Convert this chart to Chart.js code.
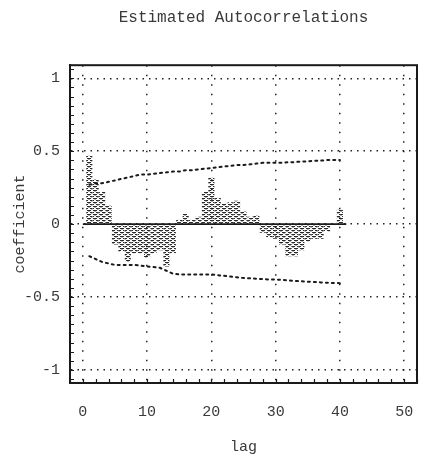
<!DOCTYPE html>
<html>
<head>
<meta charset="utf-8">
<script src="https://cdn.jsdelivr.net/npm/chart.js@4.4.1/dist/chart.umd.min.js"></script>
<style>
  html, body { margin: 0; padding: 0; background: #fff; }
  canvas { display: block; }
</style>
</head>
<body>
<canvas id="acf" width="424" height="467"></canvas>
<script>
// ---- data ----
const TITLE = 'Estimated Autocorrelations';
const X_TITLE = 'lag';
const Y_TITLE = 'coefficient';

const LAGS = [1, 2, 3, 4, 5, 6, 7, 8, 9, 10,
              11, 12, 13, 14, 15, 16, 17, 18, 19, 20,
              21, 22, 23, 24, 25, 26, 27, 28, 29, 30,
              31, 32, 33, 34, 35, 36, 37, 38, 39, 40];

const ACF = [0.47, 0.31, 0.22, 0.13, -0.14, -0.19, -0.26, -0.20, -0.20, -0.23,
             -0.20, -0.18, -0.29, -0.20, 0.03, 0.07, 0.03, 0.05, 0.22, 0.32,
             0.18, 0.14, 0.15, 0.16, 0.09, 0.05, 0.06, -0.06, -0.09, -0.10,
             -0.14, -0.22, -0.22, -0.18, -0.12, -0.10, -0.10, -0.05, 0.00, 0.10];

const BAND_UPPER = [0.27, 0.28, 0.28, 0.29, 0.30, 0.31, 0.32, 0.33, 0.34, 0.34,
                    0.345, 0.35, 0.355, 0.36, 0.36, 0.37, 0.37, 0.375, 0.38, 0.385,
                    0.39, 0.395, 0.40, 0.405, 0.405, 0.41, 0.415, 0.42, 0.42, 0.42,
                    0.42, 0.425, 0.425, 0.43, 0.43, 0.435, 0.435, 0.44, 0.44, 0.44];

const BAND_LOWER = [-0.22, -0.24, -0.26, -0.27, -0.28, -0.28, -0.28, -0.28, -0.285, -0.29,
                    -0.295, -0.30, -0.32, -0.34, -0.345, -0.345, -0.345, -0.345, -0.345, -0.345,
                    -0.35, -0.355, -0.36, -0.365, -0.37, -0.372, -0.375, -0.377, -0.38, -0.38,
                    -0.383, -0.386, -0.39, -0.392, -0.395, -0.397, -0.40, -0.402, -0.404, -0.405];

const BASELINE_LAGS = [0, 41];

const X_TICKS = [0, 10, 20, 30, 40, 50];
const Y_TICKS = [-1, -0.5, 0, 0.5, 1];
const X_MINOR_STEP = 2;
const Y_MINOR_STEP = 0.0625;

// ---- styling helpers ----
const INK = '#1a1a1a';
const TEXT = '#3a3a3a';
const FONT = 'Liberation Mono';

// brick-like dithered hatch used to fill the bars
function hatchPattern() {
  const c = document.createElement('canvas');
  c.width = 6; c.height = 4;
  const g = c.getContext('2d');
  g.fillStyle = 'rgba(20,20,20,0.9)';
  g.fillRect(0, 0, 4, 1);
  g.fillRect(3, 2, 3, 1);
  g.fillRect(0, 2, 1, 1);
  g.fillStyle = 'rgba(20,20,20,0.35)';
  g.fillRect(1, 1, 2, 1);
  g.fillRect(4, 3, 2, 1);
  return g.createPattern(c, 'repeat');
}

// frame around the plot plus small minor tick marks along left and bottom
const framePlugin = {
  id: 'frame',
  afterDatasetsDraw(chart) {
    const { ctx, chartArea: a, scales } = chart;
    ctx.save();
    ctx.strokeStyle = INK;
    ctx.lineWidth = 2;
    ctx.strokeRect(a.left, a.top, a.right - a.left, a.bottom - a.top);

    ctx.lineWidth = 1.2;
    ctx.beginPath();
    const xs = scales.x;
    for (let v = Math.ceil(xs.min / X_MINOR_STEP) * X_MINOR_STEP; v <= xs.max; v += X_MINOR_STEP) {
      const px = Math.round(xs.getPixelForValue(v)) + 0.5;
      ctx.moveTo(px, a.bottom);
      ctx.lineTo(px, a.bottom - 4);
    }
    const ys = scales.y;
    for (let v = Math.ceil(ys.min / Y_MINOR_STEP) * Y_MINOR_STEP; v <= ys.max; v += Y_MINOR_STEP) {
      const py = Math.round(ys.getPixelForValue(v)) + 0.5;
      ctx.moveTo(a.left, py);
      ctx.lineTo(a.left + 4, py);
    }
    ctx.stroke();
    ctx.restore();
  }
};

const ctx = document.getElementById('acf').getContext('2d');

const bandStyle = {
  type: 'line',
  borderColor: INK,
  borderWidth: 2,
  borderDash: [2, 4],
  borderCapStyle: 'round',
  pointRadius: 0,
  fill: false,
  tension: 0
};

const tickText = v => String(v);

new Chart(ctx, {
  type: 'bar',
  data: {
    datasets: [
      {
        type: 'line',
        label: 'zero',
        data: BASELINE_LAGS.map(l => ({ x: l, y: 0 })),
        borderColor: INK,
        borderWidth: 1.6,
        pointRadius: 0,
        order: 0
      },
      Object.assign({ label: 'upper', data: LAGS.map((l, i) => ({ x: l, y: BAND_UPPER[i] })), order: 1 }, bandStyle),
      Object.assign({ label: 'lower', data: LAGS.map((l, i) => ({ x: l, y: BAND_LOWER[i] })), order: 1 }, bandStyle),
      {
        type: 'bar',
        label: 'acf',
        data: LAGS.map((l, i) => ({ x: l, y: ACF[i] })),
        backgroundColor: hatchPattern(),
        borderWidth: 0,
        categoryPercentage: 1.0,
        barPercentage: 0.95,
        order: 2
      }
    ]
  },
  options: {
    responsive: false,
    animation: false,
    layout: { padding: { left: 0, right: 7, top: 0, bottom: 0 } },
    plugins: {
      legend: { display: false },
      tooltip: { enabled: false },
      title: {
        display: true,
        text: TITLE,
        fullSize: false,
        color: TEXT,
        font: { family: FONT, size: 16, weight: 'normal' },
        padding: { top: 8, bottom: 38 }
      }
    },
    scales: {
      x: {
        type: 'linear',
        offset: false,
        min: -2,
        max: 52,
        afterBuildTicks: s => { s.ticks = X_TICKS.map(v => ({ value: v })); },
        afterFit: s => { s.height = 84; },
        grid: {
          offset: false,
          color: '#222',
          lineWidth: 1.5,
          drawTicks: true,
          tickLength: 20,
          tickColor: 'rgba(0,0,0,0)'
        },
        border: { display: true, color: INK, width: 2, dash: [1.5, 8] },
        ticks: {
          color: TEXT,
          font: { family: FONT, size: 15 },
          padding: 0,
          autoSkip: false,
          maxRotation: 0,
          callback: tickText
        },
        title: {
          display: true,
          text: X_TITLE,
          color: TEXT,
          font: { family: FONT, size: 15 },
          padding: { top: 0, bottom: 11 }
        }
      },
      y: {
        type: 'linear',
        min: -1.09,
        max: 1.09,
        afterBuildTicks: s => { s.ticks = Y_TICKS.map(v => ({ value: v })); },
        afterFit: s => { s.width = 70; },
        grid: {
          color: '#222',
          lineWidth: 1.5,
          drawTicks: false
        },
        border: { display: true, color: INK, width: 2, dash: [1.5, 5] },
        ticks: {
          color: TEXT,
          font: { family: FONT, size: 15 },
          padding: 10,
          callback: tickText
        },
        title: {
          display: true,
          text: Y_TITLE,
          color: TEXT,
          font: { family: FONT, size: 15 },
          padding: { top: 11, bottom: 0 }
        }
      }
    }
  },
  plugins: [framePlugin]
});
</script>
</body>
</html>
